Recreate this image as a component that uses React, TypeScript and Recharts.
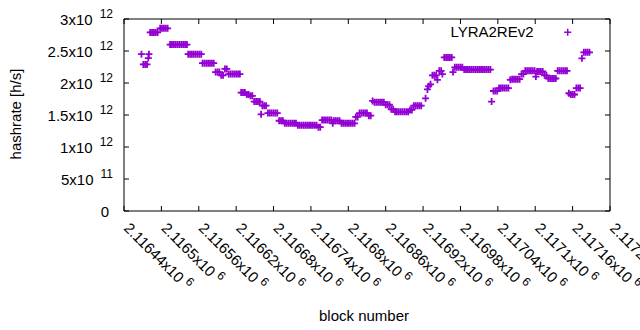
import { ScatterChart, Scatter, XAxis, YAxis, ReferenceArea, Legend } from "recharts";

// block heights and hashrate (in units of 10^12 h/s)
const blocks = [
  2116468, 2116471, 2116474, 2116477, 2116479, 2116480,
  2116482, 2116485, 2116488, 2116491, 2116494,
  2116498, 2116501, 2116504, 2116507, 2116510,
  2116514, 2116517, 2116520, 2116523, 2116526, 2116529, 2116532, 2116535, 2116538, 2116541,
  2116543, 2116546, 2116549, 2116552, 2116555, 2116558, 2116561, 2116564,
  2116566, 2116569, 2116572, 2116575, 2116578, 2116581, 2116584,
  2116587, 2116590, 2116593,
  2116596, 2116599,
  2116602, 2116605,
  2116608, 2116611, 2116614, 2116617, 2116620, 2116623, 2116626,
  2116628, 2116631, 2116634,
  2116637, 2116640,
  2116643, 2116646,
  2116649, 2116652, 2116655, 2116658,
  2116660,
  2116662, 2116665, 2116668,
  2116671, 2116674, 2116677, 2116680, 2116683, 2116686,
  2116689, 2116692, 2116695,
  2116698, 2116701, 2116704, 2116707, 2116710, 2116713, 2116716,
  2116719, 2116722, 2116725, 2116728, 2116731, 2116734, 2116737, 2116740, 2116743, 2116746, 2116749,
  2116752, 2116755,
  2116758, 2116761, 2116764, 2116767, 2116770, 2116773,
  2116775,
  2116777, 2116780, 2116783, 2116786,
  2116789, 2116792, 2116795, 2116798, 2116801, 2116804, 2116807, 2116810,
  2116812, 2116815,
  2116818, 2116821, 2116824, 2116827, 2116830,
  2116833, 2116836,
  2116839, 2116842, 2116845, 2116848, 2116851, 2116854, 2116857,
  2116860, 2116863, 2116866,
  2116869, 2116872,
  2116875, 2116878, 2116881, 2116884, 2116887, 2116890, 2116893, 2116896,
  2116899, 2116902,
  2116905, 2116908, 2116911, 2116914, 2116917,
  2116924,
  2116927, 2116929, 2116932,
  2116935, 2116938, 2116941,
  2116943,
  2116946, 2116949,
  2116951,
  2116954, 2116957, 2116960, 2116963, 2116966,
  2116968,
  2116971, 2116974, 2116977, 2116980, 2116983,
  2116986, 2116989, 2116992, 2116995, 2116998, 2117001, 2117004, 2117007, 2117010, 2117013, 2117016, 2117019, 2117022, 2117025, 2117028,
  2117030,
  2117033, 2117036, 2117039,
  2117042, 2117045, 2117048, 2117051, 2117054, 2117057,
  2117060,
  2117063, 2117066, 2117069, 2117072, 2117075,
  2117078, 2117081,
  2117084, 2117087, 2117090, 2117093, 2117096, 2117099,
  2117101,
  2117103, 2117106, 2117109, 2117112,
  2117115, 2117118,
  2117121, 2117124, 2117127, 2117130, 2117133,
  2117136, 2117139, 2117142, 2117145, 2117148, 2117151,
  2117154, 2117157, 2117160, 2117163,
  2117166, 2117169, 2117172,
  2117175,
  2117178, 2117181, 2117184, 2117187,
];

const hashrateTH = [
  2.45, 2.29, 2.29, 2.29, 2.39, 2.45,
  2.79, 2.79, 2.79, 2.79, 2.79,
  2.855, 2.855, 2.855, 2.855, 2.855,
  2.6, 2.6, 2.6, 2.6, 2.6, 2.6, 2.6, 2.6, 2.6, 2.6,
  2.45, 2.45, 2.45, 2.45, 2.45, 2.45, 2.45, 2.45,
  2.31, 2.31, 2.31, 2.31, 2.31, 2.31, 2.31,
  2.17, 2.17, 2.17,
  2.12, 2.12,
  2.22, 2.22,
  2.14, 2.14, 2.14, 2.14, 2.14, 2.14, 2.14,
  1.85, 1.85, 1.85,
  1.82, 1.82,
  1.8, 1.8,
  1.71, 1.71, 1.71, 1.71,
  1.51,
  1.645, 1.645, 1.645,
  1.53, 1.53, 1.53, 1.53, 1.53, 1.53,
  1.41, 1.41, 1.41,
  1.37, 1.37, 1.37, 1.37, 1.37, 1.37, 1.37,
  1.34, 1.34, 1.34, 1.34, 1.34, 1.34, 1.34, 1.34, 1.34, 1.34, 1.34,
  1.31, 1.31,
  1.42, 1.42, 1.42, 1.42, 1.42, 1.42,
  1.37,
  1.41, 1.41, 1.41, 1.41,
  1.37, 1.37, 1.37, 1.37, 1.37, 1.37, 1.37, 1.37,
  1.47, 1.47,
  1.53, 1.53, 1.53, 1.53, 1.53,
  1.49, 1.49,
  1.72, 1.7, 1.7, 1.7, 1.7, 1.7, 1.7,
  1.66, 1.66, 1.66,
  1.59, 1.59,
  1.55, 1.55, 1.55, 1.55, 1.55, 1.55, 1.55, 1.55,
  1.58, 1.58,
  1.645, 1.645, 1.645, 1.645, 1.645,
  1.76,
  1.9, 1.95, 1.98,
  2.12, 2.12, 2.12,
  2.05,
  2.19, 2.19,
  2.14,
  2.4, 2.4, 2.4, 2.4, 2.4,
  2.17,
  2.245, 2.245, 2.245, 2.245, 2.245,
  2.21, 2.21, 2.21, 2.21, 2.21, 2.21, 2.21, 2.21, 2.21, 2.21, 2.21, 2.21, 2.21, 2.21, 2.21,
  1.71,
  1.875, 1.875, 1.875,
  1.92, 1.92, 1.92, 1.92, 1.92, 1.92,
  2.05,
  2.06, 2.06, 2.06, 2.06, 2.06,
  2.14, 2.14,
  2.19, 2.19, 2.19, 2.19, 2.19, 2.19,
  2.1,
  2.18, 2.18, 2.18, 2.18,
  2.12, 2.12,
  2.07, 2.07, 2.07, 2.07, 2.07,
  2.19, 2.19, 2.19, 2.19, 2.19, 2.19,
  1.84, 1.82, 1.82, 1.82,
  1.92, 1.92, 1.92,
  2.385,
  2.48, 2.48, 2.48, 2.48,
];

const xTicks = [
  2116440, 2116500, 2116560, 2116620, 2116680, 2116740, 2116800,
  2116860, 2116920, 2116980, 2117040, 2117100, 2117160, 2117220,
];
const yTicks = [0, 0.5, 1, 1.5, 2, 2.5, 3];
const yTickLabels = [
  ["0", ""],
  ["5x10", "11"],
  ["1x10", "12"],
  ["1.5x10", "12"],
  ["2x10", "12"],
  ["2.5x10", "12"],
  ["3x10", "12"],
];
const seriesName = "LYRA2REv2";

const data = blocks.map((b, i) => ({ block: b, hashrate: hashrateTH[i] }));

const PURPLE = "#9400d3";
const FONT = "'Liberation Sans', Arial, sans-serif";
const TOP = 19;
const BOTTOM = 211;
const LEFT = 124;
const RIGHT = 610;
const TIC = 5;

function PlusShape(props: any) {
  const { cx, cy } = props;
  return (
    <path
      d={`M${cx - 3.5},${cy}h7M${cx},${cy - 3.5}v7`}
      stroke={PURPLE}
      strokeWidth={1.8}
      fill="none"
    />
  );
}

function XTick(props: any) {
  const { x, payload } = props;
  const label = String(parseFloat((payload.value / 1e6).toFixed(5)));
  const tx = x - 1;
  const ty = 229;
  return (
    <g>
      <line x1={x} y1={BOTTOM} x2={x} y2={BOTTOM - TIC} stroke="#000" />
      <line x1={x} y1={TOP} x2={x} y2={TOP + TIC} stroke="#000" />
      <text x={tx} y={ty} transform={`rotate(45 ${tx} ${ty})`} fontSize={15} fontFamily={FONT} fill="#000">
        <tspan>{label}x10</tspan>
        <tspan dx={4} dy={-6} fontSize={12}>6</tspan>
      </text>
    </g>
  );
}

function YTick(props: any) {
  const { y, payload } = props;
  const [mant, exp] = yTickLabels[yTicks.indexOf(payload.value)] || ["", ""];
  return (
    <g>
      <line x1={LEFT} y1={y} x2={LEFT + TIC} y2={y} stroke="#000" />
      <line x1={RIGHT} y1={y} x2={RIGHT - TIC} y2={y} stroke="#000" />
      <text x={exp ? 113 : 109} y={y + 5.5} textAnchor="end" fontSize={15} fontFamily={FONT} fill="#000">
        <tspan>{mant}</tspan>
        {exp ? (
          <tspan dx={7} dy={-6.5} fontSize={12}>{exp}</tspan>
        ) : null}
      </text>
    </g>
  );
}

function LegendBox() {
  return (
    <svg width={200} height={24}>
      <text x={133.5} y={17} textAnchor="end" fontSize={15} fontFamily={FONT} fill="#000">
        {seriesName}
      </text>
      <path d="M164.2,12.3h7M167.7,8.8v7" stroke={PURPLE} strokeWidth={1.5} fill="none" />
    </svg>
  );
}

export default function App() {
  return (
    <div style={{ position: "absolute", left: 0, top: 0, width: 640, height: 330, background: "#fff" }}>
      <ScatterChart width={640} height={330} margin={{ top: TOP, right: 640 - RIGHT, bottom: 0, left: 0 }}>
        <XAxis
          dataKey="block"
          type="number"
          domain={[2116440, 2117220]}
          ticks={xTicks}
          interval={0}
          height={330 - BOTTOM}
          axisLine={false}
          tickLine={false}
          tick={<XTick />}
          label={{
            content: () => (
              <text x={364} y={321} textAnchor="middle" fontSize={15} fontFamily={FONT} fill="#000">
                block number
              </text>
            ),
          }}
        />
        <YAxis
          dataKey="hashrate"
          type="number"
          domain={[0, 3]}
          ticks={yTicks}
          interval={0}
          width={LEFT}
          axisLine={false}
          tickLine={false}
          tick={<YTick />}
          label={{
            content: () => (
              <text
                x={21}
                y={114}
                transform="rotate(-90 21 114)"
                textAnchor="middle"
                fontSize={15}
                fontFamily={FONT}
                fill="#000"
              >
                hashrate [h/s]
              </text>
            ),
          }}
        />
        <ReferenceArea x1={2116440} x2={2117220} y1={0} y2={3} fill="none" stroke="#000" strokeWidth={1} />
        <Legend
          layout="horizontal"
          verticalAlign="middle"
          align="center"
          content={() => <LegendBox />}
          wrapperStyle={{ left: 400, top: 20, width: 200, height: 24 }}
        />
        <Scatter name={seriesName} data={data} dataKey="hashrate" shape={<PlusShape />} isAnimationActive={false} />
      </ScatterChart>
    </div>
  );
}
